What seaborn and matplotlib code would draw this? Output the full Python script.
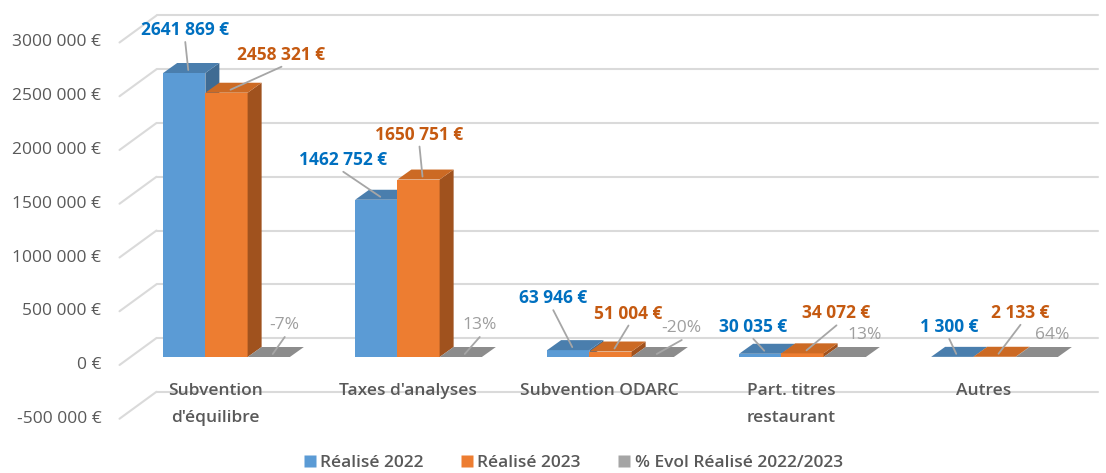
import matplotlib
matplotlib.use("Agg")
import matplotlib.pyplot as plt
import seaborn as sns
import pandas as pd
import numpy as np
from matplotlib.patches import Polygon
from matplotlib.lines import Line2D
from matplotlib.transforms import IdentityTransform

# ---------------- data ----------------
categories = ["Subvention\nd'équilibre", "Taxes d'analyses", "Subvention ODARC",
              "Part. titres\nrestaurant", "Autres"]
realise_2022 = [2641869, 1462752, 63946, 30035, 1300]
realise_2023 = [2458321, 1650751, 51004, 34072, 2133]
evol_pct = [-0.07, 0.13, -0.20, 0.13, 0.64]
series_names = ["Réalisé 2022", "Réalisé 2023", "% Evol Réalisé 2022/2023"]
y_ticks = [-500000, 0, 500000, 1000000, 1500000, 2000000, 2500000, 3000000]

# ---------------- style ----------------
sns.set_theme(style="white")
plt.rcParams["font.family"] = ["Open Sans", "DejaVu Sans"]
W, H = 1106, 473
fig = plt.figure(figsize=(W / 100, H / 100), dpi=100)
ax = fig.add_axes([130.5 / W, 40.75 / H, 960 / W, 430 / H])

front_cols = ["#5B9BD5", "#ED7D31", "#A5A5A5"]
top_cols = ["#4A7EAD", "#CC6A24", "#8C8C8C"]
side_cols = ["#3F6B93", "#A0521E", "#7A7A7A"]
label_cols = ["#0070C0", "#C55A11", "#9E9E9E"]
text_grey = "#595959"
grid_col = "#DADADA"
FS = 12.5

df = pd.DataFrame({
    "cat": categories * 3,
    "serie": sum([[s] * len(categories) for s in series_names], []),
    "val": realise_2022 + realise_2023 + evol_pct,
})

sns.barplot(data=df, x="cat", y="val", hue="serie", hue_order=series_names,
            palette=front_cols, width=0.66, gap=0, saturation=1, ax=ax,
            legend=False, linewidth=0, errorbar=None)

ax.set_xlim(-0.5, 4.5)
ax.set_ylim(-700000, 3300000)
for s in ax.spines.values():
    s.set_visible(False)
ax.set_xticks([])
ax.set_yticks([])
ax.set_xlabel("")
ax.set_ylabel("")
ax.patch.set_alpha(0)

ID = IdentityTransform()
DX, DY = 14, 10           # bar depth (px)
BDX, BDY = 26, 19         # bar plane -> back wall
LDX, LDY = 11, 8          # bar plane -> label plane

def disp(x, y):
    return ax.transData.transform((x, y))

def euro(v):
    s = f"{abs(v):,}".replace(",", " ")
    parts = s.split(" ")
    if len(parts) == 3:
        s = parts[0] + parts[1] + " " + parts[2]
    return ("-" if v < 0 else "") + s + " €"

# ---------- back wall gridlines + side wall lines ----------
x_left = ax.transAxes.transform((0, 0))[0]
x_right_wall = 1098
for v in y_ticks:
    _, yd = disp(0, v)
    ax.add_line(Line2D([x_left + BDX, x_right_wall], [yd + BDY, yd + BDY],
                       transform=ID, color=grid_col, lw=1.5, zorder=1, clip_on=False))
    ax.add_line(Line2D([x_left - LDX, x_left + BDX], [yd - LDY, yd + BDY],
                       transform=ID, color=grid_col, lw=1.5, zorder=1, clip_on=False))
    ax.text(x_left - 29, yd - LDY, euro(v), transform=ID, ha="right", va="center",
            fontsize=FS, color=text_grey)

# ---------- category labels ----------
for i, c in enumerate(categories):
    xd, yd = disp(i, 0)
    ax.text(xd - LDX, yd - 26, c, transform=ID, ha="center", va="top",
            fontsize=FS, color=text_grey, fontweight="semibold", linespacing=1.95)

# ---------- 3D faces ----------
label_dx = [[1, -33, -15, -7, -3], [55, 1, 18, 34, 26], [16, 19, 29, 20, 15]]
label_dy = [[-43, -40, -52, -27, -30], [-38, -45, -38, -40, -44], [-32, -32, -29, -22, -22]]
show_leader = [[True, True, True, True, True], [True, True, True, True, True],
               [True, True, True, False, False]]

for j, cont in enumerate(ax.containers):
    for i, p in enumerate(cont.patches):
        k = i * 3 + j
        z = 10 + k * 0.1
        p.set_zorder(z)
        x0, y0 = p.get_x(), p.get_y()
        x1, y1 = x0 + p.get_width(), y0 + p.get_height()
        (ax0, ay0) = disp(x0, min(y0, y1))
        (ax1, ay1) = disp(x1, max(y0, y1))
        top = [(ax0, ay1), (ax1, ay1), (ax1 + DX, ay1 + DY), (ax0 + DX, ay1 + DY)]
        side = [(ax1, ay0), (ax1, ay1), (ax1 + DX, ay1 + DY), (ax1 + DX, ay0 + DY)]
        ax.add_patch(Polygon(side, closed=True, transform=ID, fc=side_cols[j],
                             ec="none", zorder=z + 0.02, clip_on=False))
        ax.add_patch(Polygon(top, closed=True, transform=ID, fc=top_cols[j],
                             ec="none", zorder=z + 0.03, clip_on=False))
        # data label
        cx = (ax0 + ax1) / 2
        tx, ty = cx + label_dx[j][i], ay1 - label_dy[j][i]
        if j < 2:
            vals = realise_2022 if j == 0 else realise_2023
            ax.text(tx, ty, euro(vals[i]), transform=ID, ha="center", va="center",
                    fontsize=FS, color=label_cols[j], fontweight="bold", zorder=30)
        else:
            s = f"{evol_pct[i] * 100:.0f}%"
            ax.text(tx, ty, s, transform=ID, ha="center", va="center",
                    fontsize=FS, color=label_cols[j], zorder=30)
        if show_leader[j][i]:
            ax.add_line(Line2D([tx, cx + 4], [ty - 12, ay1 + 3], transform=ID,
                               color="#A6A6A6", lw=1.3, zorder=29, clip_on=False))

# ---------- legend ----------
handles = [Line2D([], [], marker="s", ls="none", markersize=8,
                  markerfacecolor=c, markeredgecolor="none") for c in front_cols]
fig.legend(handles, series_names, loc="center", bbox_to_anchor=(572 / W, 10 / H),
           ncol=3, frameon=False, handletextpad=0.1, columnspacing=2.0,
           handlelength=1.0, prop={"size": FS, "weight": "semibold"},
           labelcolor=text_grey)

fig.savefig("out.png", dpi=100)
